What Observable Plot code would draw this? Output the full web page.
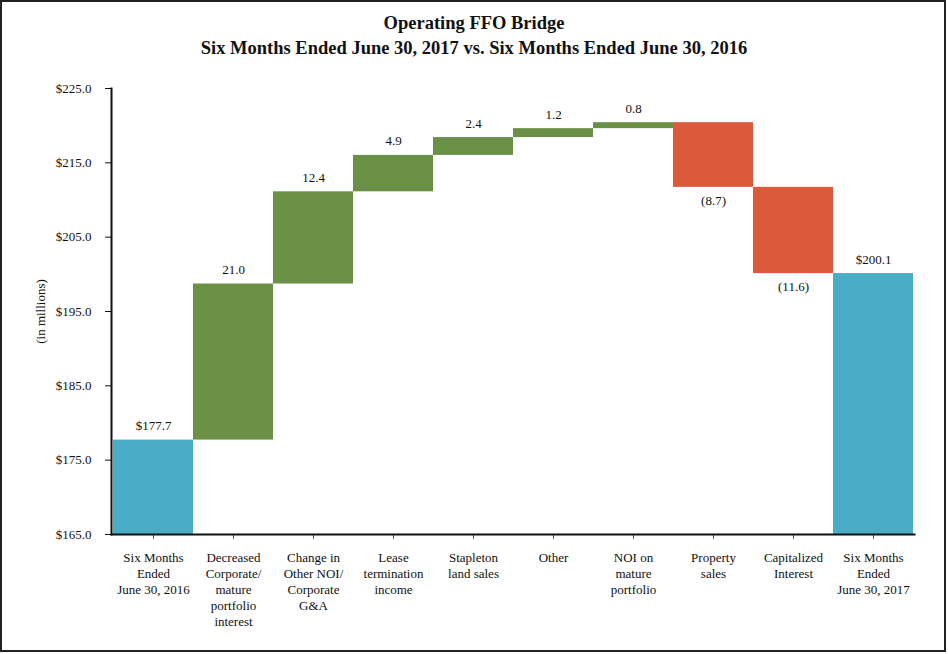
<!DOCTYPE html>
<html>
<head>
<meta charset="utf-8">
<script src="https://cdn.jsdelivr.net/npm/d3@7"></script>
<script src="https://cdn.jsdelivr.net/npm/@observablehq/plot@0.6"></script>
<style>
  html, body { margin: 0; padding: 0; background: #fff; }
  #wrap { position: relative; width: 948px; height: 654px; overflow: hidden; background: #fff; }
  #border { position: absolute; left: 0; top: 0; width: 946px; height: 652px; box-sizing: border-box; border: 2px solid #222; pointer-events: none; }
  #title { height: 66px; box-sizing: border-box; padding-top: 11px; text-align: center;
    font-family: "Liberation Serif", "Times New Roman", serif; font-weight: bold; font-size: 18.5px; line-height: 25px; color: #111; }
  #chart svg { display: block; font-family: "Liberation Serif", "Times New Roman", serif !important; }
  #chart svg text, #chart svg g { font-family: "Liberation Serif", "Times New Roman", serif !important; }
</style>
</head>
<body>
<div id="wrap">
  <div id="title">Operating FFO Bridge<br>Six Months Ended June 30, 2017 vs. Six Months Ended June 30, 2016</div>
  <div id="chart"></div>
  <div id="border"></div>
</div>
<script>
const categories = [
  "Six Months\nEnded\nJune 30, 2016",
  "Decreased\nCorporate/\nmature\nportfolio\ninterest",
  "Change in\nOther NOI/\nCorporate\nG&A",
  "Lease\ntermination\nincome",
  "Stapleton\nland sales",
  "Other",
  "NOI on\nmature\nportfolio",
  "Property\nsales",
  "Capitalized\nInterest",
  "Six Months\nEnded\nJune 30, 2017"
];
const values = [177.7, 21.0, 12.4, 4.9, 2.4, 1.2, 0.8, -8.7, -11.6, 200.1];
const kinds = ["total", "delta", "delta", "delta", "delta", "delta", "delta", "delta", "delta", "total"];
const yTicks = [165, 175, 185, 195, 205, 215, 225];
const yDomain = [165, 225];
const colors = { total: "#4bacc6", up: "#6a9046", down: "#dc5a3b" };

// build waterfall table
let running = 0;
const rows = categories.map((c, i) => {
  const v = values[i];
  let y1, y2, type;
  if (kinds[i] === "total") { y1 = 0; y2 = v; running = v; type = "total"; }
  else { y1 = running; y2 = running + v; running = y2; type = v >= 0 ? "up" : "down"; }
  const label = kinds[i] === "total" ? "$" + v.toFixed(1) : (v >= 0 ? v.toFixed(1) : "(" + Math.abs(v).toFixed(1) + ")");
  return { cat: c, y1, y2, top: Math.max(y1, y2), bottom: Math.min(y1, y2), type, label, neg: v < 0 };
});

const serif = "Liberation Serif";
const chart = Plot.plot({
  width: 948,
  height: 588,
  marginLeft: 111,
  marginRight: 34,
  marginTop: 22,
  marginBottom: 120,
  style: { fontFamily: serif, fontSize: "13px", color: "#111", background: "transparent" },
  x: { domain: categories, padding: 0, label: null },
  y: { domain: yDomain, label: null },
  color: { domain: ["total", "up", "down"], range: [colors.total, colors.up, colors.down] },
  marks: [
    Plot.barY(rows, { x: "cat", y1: "y1", y2: "y2", fill: "type", clip: true, inset: 0 }),
    Plot.text(rows.filter(d => !d.neg), { x: "cat", y: "top", text: "label", lineAnchor: "bottom", dy: -10, fontSize: 13, fontFamily: serif, fill: "#111" }),
    Plot.text(rows.filter(d => d.neg), { x: "cat", y: "bottom", text: "label", lineAnchor: "top", dy: 8, fontSize: 13, fontFamily: serif, fill: "#111" }),
    Plot.axisY({ ticks: yTicks, tickFormat: d => "$" + d.toFixed(1), tickSize: 6, tickPadding: 14, label: null, fontSize: 13, fontFamily: serif }),
    Plot.axisX({ tickSize: 5, tickPadding: 11, lineHeight: 1.23, label: null, fontSize: 13, fontFamily: serif, stroke: "#555" }),
    Plot.frame({ anchor: "left", stroke: "#111", strokeWidth: 2 }),
    Plot.frame({ anchor: "bottom", stroke: "#111", strokeWidth: 2 }),
    Plot.text(["(in millions)"], { frameAnchor: "left", textAnchor: "middle", dx: -71, rotate: -90, fontSize: 13, fontFamily: serif, fill: "#111" })
  ]
});
document.getElementById("chart").appendChild(chart);
</script>
</body>
</html>
